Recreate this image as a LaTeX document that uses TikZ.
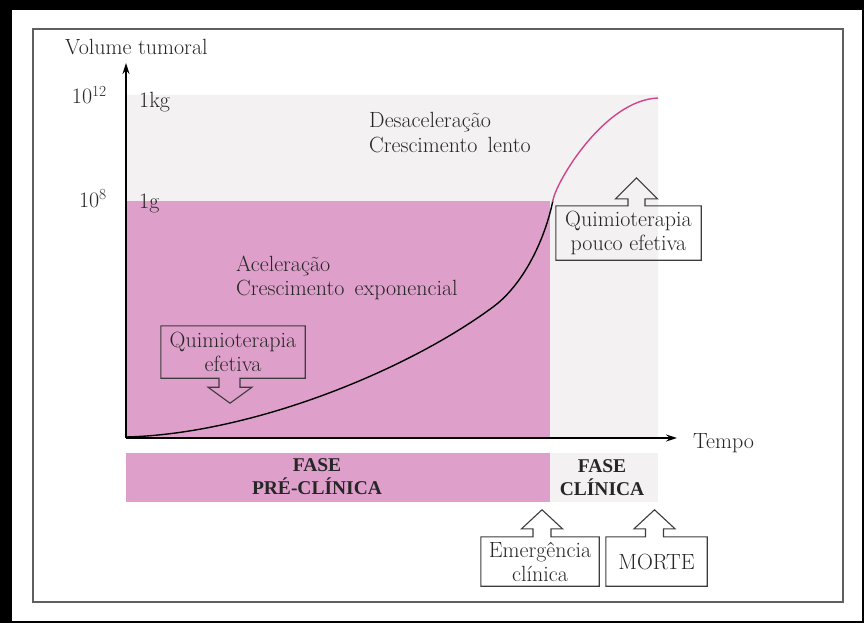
\documentclass[tikz,border=0pt]{standalone}
\usepackage{fontspec}
\newfontfamily\boldserif{Liberation Serif}
\usetikzlibrary{arrows.meta,calc}
\definecolor{pinkfill}{RGB}{222,160,202}
\definecolor{grayfill}{RGB}{243,241,242}
\definecolor{curvepink}{RGB}{205,70,140}
\definecolor{framegray}{RGB}{95,95,95}
\definecolor{boxline}{RGB}{60,60,60}
\newcommand{\upcall}[2]{%
  \draw[cline] (#1.south west) -- (#1.north west) -- ($(#1.north)+(#2-9,0)$) -- ++(0,-8) -- ++(-11.5,0)
    -- ($(#1.north)+(#2,-27)$) -- ($(#1.north)+(#2+20.5,-8)$) -- ++(-11.5,0) -- ++(0,8)
    -- (#1.north east) -- (#1.south east) -- cycle;}
\newcommand{\tumorcurve}{(126,437) .. controls (250,434) and (405,372) .. (493,307)
    .. controls (523,285) and (545,240) .. (553,200)
    .. controls (557,180) and (605,100) .. (658,98)}
\begin{document}
\begin{tikzpicture}[x=1pt,y=-1pt,
  txt/.style={font=\fontsize{22}{24}\selectfont, inner sep=0pt, text=black!85},
  fasetxt/.style={font=\boldserif\bfseries\fontsize{19.5}{23}\selectfont, inner sep=0pt, align=center, text=black!85},
  cline/.style={draw=boxline, line width=1.1pt, line join=miter},
  axis/.style={line width=1.4pt, -{Stealth[length=11pt,width=7pt]}}]
\useasboundingbox (0,0) rectangle (864,623);
\fill[white] (0,0) rectangle (864,623);
% outer black border
\fill[black] (0,0) rectangle (864,10);
\fill[black] (0,0) rectangle (12,623);
\fill[black] (0,621) rectangle (864,623);
\fill[black] (862,0) rectangle (864,623);
% inner frame
\draw[framegray, line width=1.5pt] (33,29) rectangle (843,602);
% regions
\fill[grayfill] (126,95) -- (658,95) -- (658,438) -- (550,438) -- (550,201) -- (126,201) -- cycle;
\fill[pinkfill] (126,201) rectangle (550,438);
\fill[pinkfill] (126,453) rectangle (550,502);
\fill[grayfill] (550,453) rectangle (658,502);
% curve
\begin{scope}
\clip (0,201) rectangle (864,623);
\draw[line width=1.4pt, black] \tumorcurve;
\end{scope}
\begin{scope}
\clip (0,0) rectangle (864,201);
\draw[line width=1.4pt, curvepink] \tumorcurve;
\end{scope}
% axes
\coordinate (O) at (126,438);
\coordinate (X) at (677,438);
\coordinate (Y) at (126,63);
\draw[axis] (O) -- (X);
\draw[axis] (O) -- (Y);
% axis labels
\node[txt, anchor=base west] (vt) at (65,55) {Volume tumoral};
\node[txt, anchor=base west] (tempo) at (693,448) {Tempo};
\node[txt, anchor=base east] (e12) at (107,104) {10\textsuperscript{12}};
\node[txt, anchor=base east] (e8) at (107,207) {10\textsuperscript{8}};
\node[txt, anchor=base west] (kg) at (139,107) {1kg};
\node[txt, anchor=base west] (g) at (139,208) {1g};
% region texts
\node[txt, anchor=base west] (des1) at (369,128) {Desaceleração};
\node[txt, anchor=base west] (des2) at (369,152) {Crescimento\, lento};
\node[txt, anchor=base west] (ac1) at (236,271) {Aceleração};
\node[txt, anchor=base west] (ac2) at (236,295) {Crescimento\, exponencial};
% phase bar
\node[fasetxt] (pre) at (317,477) {FASE\\PRÉ-CLÍNICA};
\node[fasetxt] (cli) at (602,478) {FASE\\CLÍNICA};
% callout: quimioterapia efetiva (down)
\node[txt, align=center, minimum width=144pt, minimum height=52pt] (qe) at (233,352) {Quimioterapia\\efetiva};
\draw[cline] (qe.south west) -- (qe.north west) -- (qe.north east) -- (qe.south east)
  -- ($(qe.south)+(7,0)$) -- ++(0,9) -- ++(12,0) -- ($(qe.south)+(-3,25)$)
  -- ($(qe.south)+(-25,9)$) -- ++(11,0) -- ++(0,-9) -- cycle;
% callout: quimioterapia pouco efetiva (up)
\node[txt, align=center, minimum width=145pt, minimum height=54pt] (qp) at (628.5,233) {Quimioterapia\\pouco efetiva};
\draw[cline] (qp.south west) -- (qp.north west) -- ($(qp.north)+(-0.5,0)$) -- ++(0,-7) -- ++(-12.5,0)
  -- ($(qp.north)+(8,-28)$) -- ($(qp.north)+(29,-7)$) -- ++(-12.5,0) -- ++(0,7)
  -- (qp.north east) -- (qp.south east) -- cycle;
% bottom callouts
\node[txt, align=center, minimum width=118pt, minimum height=49pt] (em) at (540,561.5) {Emergência\\clínica};
\upcall{em}{2}
\node[txt, align=center, minimum width=101pt, minimum height=49pt] (mo) at (656.5,561.5) {MORTE};
\upcall{mo}{-2}
\end{tikzpicture}
\end{document}
